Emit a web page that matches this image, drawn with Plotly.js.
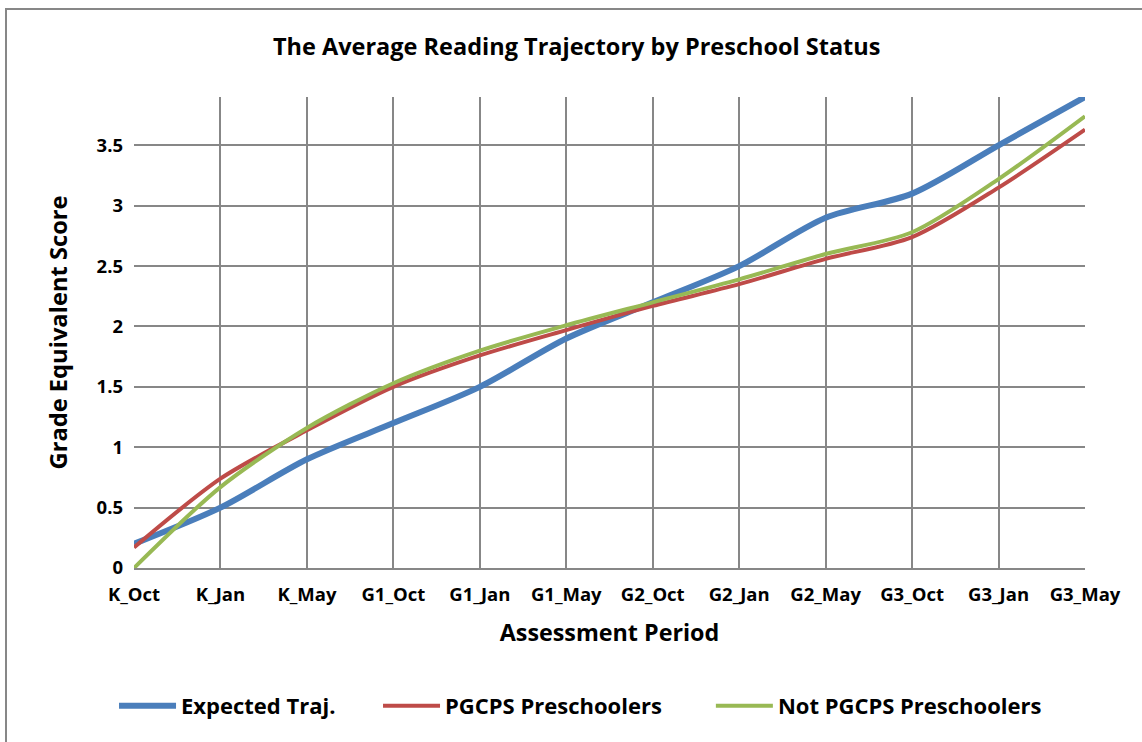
<!DOCTYPE html>
<html>
<head>
<meta charset="utf-8">
<script src="https://cdn.plot.ly/plotly-3.0.1.min.js"></script>
<style>
  html, body { margin: 0; padding: 0; background: #fff; }
  #wrap { position: relative; width: 1142px; height: 742px; overflow: hidden; }
  #chart { width: 1142px; height: 742px; }
  #frame { position: absolute; left: 5px; top: 8px; width: 1200px; height: 800px;
           border-left: 2px solid #878787; border-top: 2px solid #878787; pointer-events: none; }
</style>
</head>
<body>
<div id="wrap">
  <div id="chart"></div>
  <div id="frame"></div>
</div>
<script>
const periods = ["K_Oct","K_Jan","K_May","G1_Oct","G1_Jan","G1_May","G2_Oct","G2_Jan","G2_May","G3_Oct","G3_Jan","G3_May"];
const expectedTraj = [0.2, 0.5, 0.9, 1.2, 1.5, 1.9, 2.2, 2.5, 2.9, 3.1, 3.5, 3.9];
const pgcpsPreschoolers = [0.17, 0.74, 1.14, 1.5, 1.76, 1.97, 2.17, 2.35, 2.56, 2.74, 3.15, 3.63];
const notPgcpsPreschoolers = [0.0, 0.67, 1.16, 1.53, 1.8, 2.01, 2.2, 2.39, 2.6, 2.78, 3.22, 3.74];
const yTicks = [0, 0.5, 1, 1.5, 2, 2.5, 3, 3.5];
const yTickText = ["0", "0.5", "1", "1.5", "2", "2.5", "3", "3.5"];

const FONT = "'Open Sans', Lato, sans-serif";

const traces = [
  { x: periods, y: expectedTraj, name: "Expected Traj.", type: "scatter", mode: "lines", legend: "legend",
    line: { color: "#4a7ebb", width: 6, shape: "spline", smoothing: 0.8 } },
  { x: periods, y: pgcpsPreschoolers, name: "PGCPS Preschoolers", type: "scatter", mode: "lines", legend: "legend2",
    line: { color: "#be4b48", width: 4, shape: "spline", smoothing: 0.8 } },
  { x: periods, y: notPgcpsPreschoolers, name: "Not PGCPS Preschoolers", type: "scatter", mode: "lines", legend: "legend3",
    line: { color: "#98b954", width: 4, shape: "spline", smoothing: 0.8 } }
];

function legendAt(x) {
  return {
    orientation: "h", x: x, xanchor: "left", y: -0.293, yanchor: "middle",
    font: { family: FONT, size: 22, weight: 700, color: "#000" },
    itemwidth: 57, tracegroupgap: 0, bgcolor: "rgba(0,0,0,0)"
  };
}

const layout = {
  width: 1142, height: 742,
  margin: { l: 134, r: 57, t: 97, b: 174 },
  paper_bgcolor: "#ffffff", plot_bgcolor: "#ffffff",
  font: { family: FONT, color: "#000", weight: 700 },
  showlegend: true,
  title: { text: "The Average Reading Trajectory by Preschool Status",
           font: { family: FONT, size: 23.5, weight: 700, color: "#000" },
           x: 0.505, xanchor: "center", y: 0.937, yanchor: "middle" },
  xaxis: {
    type: "category", categoryorder: "array", categoryarray: periods,
    range: [0, 11], showgrid: true, gridcolor: "#878787", gridwidth: 2,
    showline: true, linecolor: "#878787", linewidth: 2, mirror: false,
    ticks: "", tickfont: { family: FONT, size: 18.5, weight: 700, color: "#000" },
    ticklabelstandoff: 9,
    title: { text: "Assessment Period", font: { family: FONT, size: 23.3, weight: 700, color: "#000" }, standoff: 19 },
    zeroline: false, fixedrange: true
  },
  yaxis: {
    range: [0, 3.9], tickvals: yTicks, ticktext: yTickText,
    showgrid: true, gridcolor: "#878787", gridwidth: 2, zeroline: false,
    showline: false, ticks: "", tickfont: { family: FONT, size: 18.5, weight: 700, color: "#000" },
    ticklabelstandoff: 10,
    title: { text: "Grade Equivalent Score", font: { family: FONT, size: 23.7, weight: 700, color: "#000" }, standoff: 22 },
    fixedrange: true
  },
  legend: legendAt(-0.021),
  legend2: legendAt(0.2566),
  legend3: legendAt(0.6066)
};

Plotly.newPlot("chart", traces, layout, { staticPlot: true, displayModeBar: false });
</script>
</body>
</html>
